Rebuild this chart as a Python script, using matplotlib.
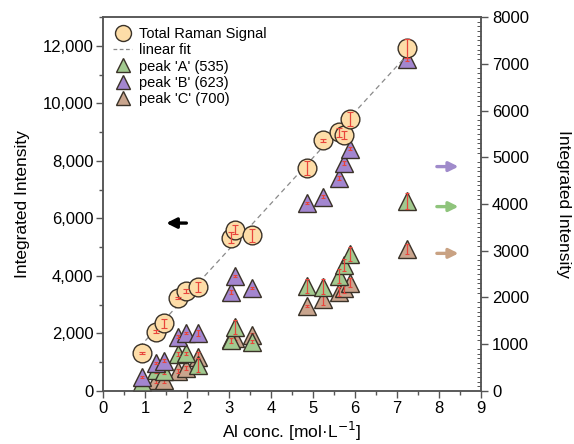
import numpy as np
import matplotlib
matplotlib.use("Agg")
import matplotlib.pyplot as plt
from matplotlib.ticker import MultipleLocator, FuncFormatter
from matplotlib.lines import Line2D

plt.rcParams['font.family'] = ['Liberation Sans', 'DejaVu Sans']

# ---- data ----
conc = [0.92, 1.26, 1.45, 1.78, 1.98, 2.27, 3.05, 3.14, 3.54, 4.85, 5.25, 5.63, 5.75, 5.88, 7.25]
total = [1330, 2060, 2350, 3240, 3480, 3620, 5330, 5610, 5410, 7750, 8710, 8990, 8900, 9460, 11920]
total_err = [40, 60, 150, 40, 60, 180, 200, 150, 220, 230, 60, 150, 150, 250, 330]
peak_a = [200, 440, 434, 791, 806, 556, 1080, 1370, 1054, 2246, 2231, 2460, 2695, 2930, 4070]
peak_a_err = [60, 50, 60, 40, 30, 150, 60, 150, 30, 150, 160, 150, 130, 150, 170]
peak_b = [290, 600, 650, 1160, 1240, 1240, 2120, 2460, 2200, 4030, 4160, 4550, 4870, 5180, 7100]
peak_b_err = [20, 30, 30, 30, 30, 60, 40, 30, 20, 20, 40, 40, 40, 30, 40]
peak_c = [110, 230, 235, 430, 486, 720, 1120, 1140, 1190, 1818, 1961, 2124, 2197, 2317, 3030]
peak_c_err = [20, 60, 60, 40, 40, 120, 40, 60, 50, 20, 120, 100, 100, 100, 110]

labels = ["Total Raman Signal", "linear fit", "peak 'A' (535)", "peak 'B' (623)", "peak 'C' (700)"]

c_circle = '#FDDDA8'
c_a = '#A2C98F'
c_b = '#A386CF'
c_c = '#C9A58E'
c_err = '#E8453C'
edge = '#3a3228'

fig = plt.figure(figsize=(5.74, 4.44), dpi=100)
ax = fig.add_axes([0.1794, 0.1194, 0.6585, 0.8423])
ax2 = ax.twinx()

# right axis peaks
for vals, errs, col, z in [(peak_c, peak_c_err, c_c, 3), (peak_a, peak_a_err, c_a, 4), (peak_b, peak_b_err, c_b, 5)]:
    ax2.plot(conc, vals, linestyle='none', marker='^', markersize=12.5,
             markerfacecolor=col, markeredgecolor=edge, markeredgewidth=1.0, zorder=z)
    ax2.errorbar(conc, vals, yerr=errs, fmt='none', ecolor=c_err, elinewidth=0.9,
                 capsize=1.5, capthick=0.8, zorder=z + 0.1)

# left axis total
x = np.array(conc)
p = np.polyfit(x, total, 1)
xf = np.array([x.min() - 0.05, x.max()])
ax.plot(xf, np.polyval(p, xf), linestyle=(0, (4, 3)), color='#8a8a8a', lw=0.9, zorder=2)
ax.plot(conc, total, linestyle='none', marker='o', markersize=13.5,
        markerfacecolor=c_circle, markeredgecolor=edge, markeredgewidth=1.0, zorder=3)
ax.errorbar(conc, total, yerr=total_err, fmt='none', ecolor=c_err, elinewidth=0.9,
            capsize=2, capthick=0.8, zorder=4)

ax.set_zorder(ax2.get_zorder() + 1)
ax.patch.set_visible(False)

ax.set_xlim(0, 9)
ax.set_ylim(0, 13000)
ax2.set_ylim(0, 8000)

spine_col = '#555555'
for a in (ax, ax2):
    for s in a.spines.values():
        s.set_color(spine_col)
        s.set_linewidth(1.1)

ax.xaxis.set_major_locator(MultipleLocator(1))
ax.xaxis.set_minor_locator(MultipleLocator(0.5))
ax.yaxis.set_major_locator(MultipleLocator(2000))
ax.yaxis.set_minor_locator(MultipleLocator(1000))
ax.yaxis.set_major_formatter(FuncFormatter(lambda v, pos: f"{int(v):,}"))
ax2.yaxis.set_major_locator(MultipleLocator(1000))
ax2.yaxis.set_minor_locator(MultipleLocator(100))

ax.tick_params(axis='both', which='major', direction='out', length=5, width=1, color=spine_col,
               labelsize=12, pad=2)
ax.tick_params(axis='both', which='minor', direction='out', length=3, width=1, color=spine_col)
ax2.tick_params(axis='y', which='major', direction='out', length=5, width=1, color=spine_col,
                labelsize=12, pad=3)
ax2.tick_params(axis='y', which='minor', direction='in', length=3, width=0.7, color=spine_col)

ax.set_xlabel("Al conc. [mol·L$^{-1}$]", fontsize=12.5, labelpad=3)
ax.set_ylabel("Integrated Intensity", fontsize=12.5, labelpad=9)
ax2.set_ylabel("Integrated Intensity", fontsize=12.5, rotation=270, labelpad=30)

# arrows
ax.annotate('', xy=(0.160, 0.449), xytext=(0.228, 0.449), xycoords='axes fraction',
            arrowprops=dict(arrowstyle='-|>', color='black', lw=2.4, mutation_scale=15))
for yy, col in [(0.600, '#A08BCB'), (0.493, '#8FC47C'), (0.368, '#C9A283')]:
    ax.annotate('', xy=(0.948, yy), xytext=(0.876, yy), xycoords='axes fraction',
                arrowprops=dict(arrowstyle='-|>', color=col, lw=2.4, mutation_scale=14))

handles = [
    Line2D([], [], linestyle='none', marker='o', markersize=11.5, markerfacecolor=c_circle,
           markeredgecolor=edge, markeredgewidth=1.0),
    Line2D([], [], linestyle=(0, (3, 2)), color='#8a8a8a', lw=0.9),
    Line2D([], [], linestyle='none', marker='^', markersize=10.5, markerfacecolor=c_a,
           markeredgecolor=edge, markeredgewidth=1.0),
    Line2D([], [], linestyle='none', marker='^', markersize=10.5, markerfacecolor=c_b,
           markeredgecolor=edge, markeredgewidth=1.0),
    Line2D([], [], linestyle='none', marker='^', markersize=10.5, markerfacecolor=c_c,
           markeredgecolor=edge, markeredgewidth=1.0),
]
ax.legend(handles, labels, loc='upper left', bbox_to_anchor=(0.0, 1.0), frameon=False,
          fontsize=10.5, handlelength=1.3, handletextpad=0.5, labelspacing=0.15,
          borderaxespad=0.3, borderpad=0.4)

fig.savefig('out.png', dpi=100)
